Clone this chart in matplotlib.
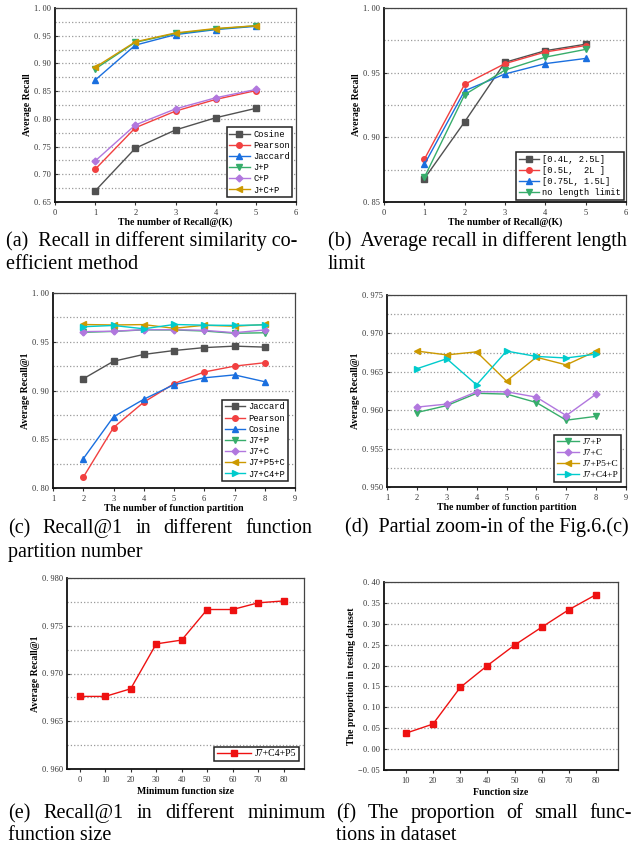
import matplotlib
matplotlib.use('Agg')
import matplotlib.pyplot as plt
from matplotlib.ticker import MultipleLocator, FuncFormatter

# (a) recall for different similarity coefficients
k = [1, 2, 3, 4, 5]
a_cosine = [0.670, 0.747, 0.780, 0.802, 0.819]
a_pearson = [0.709, 0.784, 0.814, 0.835, 0.851]
a_jaccard = [0.870, 0.933, 0.952, 0.961, 0.967]
a_jp = [0.890, 0.938, 0.954, 0.962, 0.968]
a_cp = [0.724, 0.789, 0.818, 0.838, 0.853]
a_jcp = [0.893, 0.939, 0.955, 0.963, 0.968]

# (b) recall for different length limits
b_04 = [0.868, 0.912, 0.958, 0.967, 0.972]
b_05 = [0.883, 0.941, 0.957, 0.966, 0.971]
b_075 = [0.879, 0.936, 0.949, 0.957, 0.961]
b_none = [0.869, 0.933, 0.952, 0.962, 0.968]

# (c) / (d) recall@1 vs number of function partitions
parts = [2, 3, 4, 5, 6, 7, 8]
c_jaccard = [0.912, 0.930, 0.937, 0.941, 0.944, 0.9455, 0.9445]
c_pearson = [0.811, 0.862, 0.888, 0.907, 0.919, 0.925, 0.9285]
c_cosine = [0.830, 0.873, 0.891, 0.906, 0.913, 0.916, 0.909]
j7p = [0.9597, 0.9606, 0.9622, 0.9621, 0.9610, 0.9587, 0.9592]
j7c = [0.9604, 0.9608, 0.9624, 0.9624, 0.9617, 0.9593, 0.9621]
j7p5c = [0.9677, 0.9672, 0.9676, 0.9638, 0.9669, 0.9659, 0.9677]
j7c4p = [0.9654, 0.9667, 0.9633, 0.9677, 0.9670, 0.9668, 0.9673]

# (e) recall@1 vs minimum function size
min_size = [0, 10, 20, 30, 40, 50, 60, 70, 80]
e_recall = [0.9676, 0.9676, 0.9684, 0.9731, 0.9735, 0.9767, 0.9767, 0.9774, 0.9776]

# (f) proportion of small functions
fsize = [10, 20, 30, 40, 50, 60, 70, 80]
f_prop = [0.038, 0.060, 0.1475, 0.200, 0.249, 0.292, 0.334, 0.370]

GRAY, RED, BLUE, GREEN = '#515151', '#F14040', '#1A6FDF', '#37AD6B'
PURPLE, GOLD, CYAN = '#B177DE', '#CC9900', '#00CBCC'

W, H = 641, 844
fig = plt.figure(figsize=(W / 100, H / 100), dpi=100)

SERIF = 'Liberation Serif'
MONO = 'Liberation Mono'


def make_ax(left, top, right, bottom):
    ax = fig.add_axes([left / W, 1 - bottom / H, (right - left) / W, (bottom - top) / H])
    for s in ['left', 'bottom']:
        ax.spines[s].set_linewidth(1.3)
        ax.spines[s].set_color('#111111')
    for s in ['top', 'right']:
        ax.spines[s].set_linewidth(0.9)
        ax.spines[s].set_color('#444444')
    ax.tick_params(axis='both', which='major', labelsize=6, colors='#333333',
                   length=2.5, width=0.8)
    ax.tick_params(axis='x', direction='out', pad=2.5)
    ax.tick_params(axis='y', direction='in', pad=3)
    ax.tick_params(which='minor', length=0)
    return ax


def y_style(ax, lo, hi, major, minor, dec):
    ax.set_ylim(lo, hi)
    ax.yaxis.set_major_locator(MultipleLocator(major))
    ax.yaxis.set_minor_locator(MultipleLocator(minor))
    ax.yaxis.set_major_formatter(FuncFormatter(
        lambda v, p: f"{v:.{dec}f}".replace('-', '\u2212').replace('.', '. ')))
    ax.yaxis.grid(True, which='both', linestyle=':', color='#9a9a9a', linewidth=0.9)
    ax.set_axisbelow(True)


def labels(ax, xl, yl, xpad=0.5, ypad=1.5):
    ax.set_xlabel(xl, fontfamily=SERIF, fontweight='bold', fontsize=7, labelpad=xpad)
    ax.set_ylabel(yl, fontfamily=SERIF, fontweight='bold', fontsize=7, labelpad=ypad)


def leg(ax, anchor, fs=6.3, family=MONO, hl=2.3):
    lg = ax.legend(loc='lower right', bbox_to_anchor=anchor, borderaxespad=0,
                   prop={'family': family, 'size': fs}, handlelength=hl,
                   labelspacing=0.25, handletextpad=0.4, borderpad=0.3,
                   fancybox=False, framealpha=1)
    lg.get_frame().set_edgecolor('#222222')
    lg.get_frame().set_linewidth(1.1)


def line(ax, x, y, c, m, lab, ms=4):
    ax.plot(x, y, color=c, marker=m, markersize=ms, linewidth=1, label=lab)


def caption(x0, y, text, x1=None):
    kw = dict(fontfamily=SERIF, fontsize=14.5, va='baseline', ha='left')
    if x1 is None:
        fig.text(x0 / W, 1 - y / H, text, **kw)
        return
    words = text.split()
    r = fig.canvas.get_renderer()
    arts = [fig.text(0, 1 - y / H, w, **kw) for w in words]
    widths = [t.get_window_extent(r).width for t in arts]
    gap = (x1 - x0 - sum(widths)) / (len(words) - 1)
    x = x0
    for t, w in zip(arts, widths):
        t.set_x(x / W)
        x += w + gap


# (a)
ax = make_ax(55, 8, 296, 202)
line(ax, k, a_cosine, GRAY, 's', 'Cosine')
line(ax, k, a_pearson, RED, 'o', 'Pearson')
line(ax, k, a_jaccard, BLUE, '^', 'Jaccard')
line(ax, k, a_jp, GREEN, 'v', 'J+P')
line(ax, k, a_cp, PURPLE, 'D', 'C+P', ms=3.5)
line(ax, k, a_jcp, GOLD, '<', 'J+C+P')
ax.set_xlim(0, 6)
ax.set_xticks(range(7))
y_style(ax, 0.65, 1.0, 0.05, 0.025, 2)
labels(ax, 'The number of Recall@(K)', 'Average Recall')
leg(ax, (0.985, 0.025))

# (b)
ax = make_ax(384, 8, 626, 202)
line(ax, k, b_04, GRAY, 's', '[0.4L, 2.5L]')
line(ax, k, b_05, RED, 'o', '[0.5L,  2L ]')
line(ax, k, b_075, BLUE, '^', '[0.75L, 1.5L]')
line(ax, k, b_none, GREEN, 'v', 'no length limit')
ax.set_xlim(0, 6)
ax.set_xticks(range(7))
y_style(ax, 0.85, 1.0, 0.05, 0.025, 2)
labels(ax, 'The number of Recall@(K)', 'Average Recall')
leg(ax, (0.99, 0.01))

# (c)
ax = make_ax(53, 293, 295, 488)
line(ax, parts, c_jaccard, GRAY, 's', 'Jaccard')
line(ax, parts, c_pearson, RED, 'o', 'Pearson')
line(ax, parts, c_cosine, BLUE, '^', 'Cosine')
line(ax, parts, j7p, GREEN, 'v', 'J7+P')
line(ax, parts, j7c, PURPLE, 'D', 'J7+C', ms=3.5)
line(ax, parts, j7p5c, GOLD, '<', 'J7+P5+C')
line(ax, parts, j7c4p, CYAN, '>', 'J7+C4+P')
ax.set_xlim(1, 9)
ax.set_xticks(range(1, 10))
y_style(ax, 0.80, 1.0, 0.05, 0.025, 2)
labels(ax, 'The number of function partition', 'Average Recall@1')
leg(ax, (0.97, 0.035))

# (d)
ax = make_ax(387, 295, 626, 487)
line(ax, parts, j7p, GREEN, 'v', 'J7+P')
line(ax, parts, j7c, PURPLE, 'D', 'J7+C', ms=3.5)
line(ax, parts, j7p5c, GOLD, '<', 'J7+P5+C')
line(ax, parts, j7c4p, CYAN, '>', 'J7+C4+P')
ax.set_xlim(1, 9)
ax.set_xticks(range(1, 10))
y_style(ax, 0.950, 0.975, 0.005, 0.0025, 3)
labels(ax, 'The number of function partition', 'Average Recall@1')
leg(ax, (0.98, 0.025), family=SERIF, fs=6.8)

# (e)
ax = make_ax(67, 578, 304, 769)
ax.plot(min_size, e_recall, color='#ee1111', marker='s', markersize=4.5,
        linewidth=1, label='J7+C4+P5')
ax.set_xlim(-5, 88)
ax.set_xticks(min_size)
y_style(ax, 0.960, 0.980, 0.005, 0.0025, 3)
labels(ax, 'Minimum function size', 'Average Recall@1', xpad=2)
leg(ax, (0.98, 0.04), family=SERIF, fs=7, hl=3.5)

# (f)
ax = make_ax(384, 582, 618, 770)
ax.plot(fsize, f_prop, color='#ee1111', marker='s', markersize=4.5, linewidth=1)
ax.set_xlim(2, 88)
ax.set_xticks(fsize)
y_style(ax, -0.05, 0.40, 0.05, 0.05, 2)
labels(ax, 'Function size', 'The proportion in testing dataset', xpad=2)

for a in fig.axes:
    for lab in a.get_xticklabels() + a.get_yticklabels():
        lab.set_family(SERIF)

# captions
caption(6, 246, '(a)  Recall in different similarity co-')
caption(6, 269, 'efficient method')
caption(328, 246, '(b)  Average recall in different length')
caption(328, 269, 'limit')
caption(8, 533, '(c) Recall@1 in different function', x1=312)
caption(8, 557, 'partition number')
caption(345, 532, '(d)  Partial zoom-in of the Fig.6.(c)')
caption(8, 818, '(e) Recall@1 in different minimum', x1=326)
caption(8, 840, 'function size')
caption(336, 818, '(f) The proportion of small func-', x1=632)
caption(336, 840, 'tions in dataset')

fig.savefig('out.png', dpi=100)
